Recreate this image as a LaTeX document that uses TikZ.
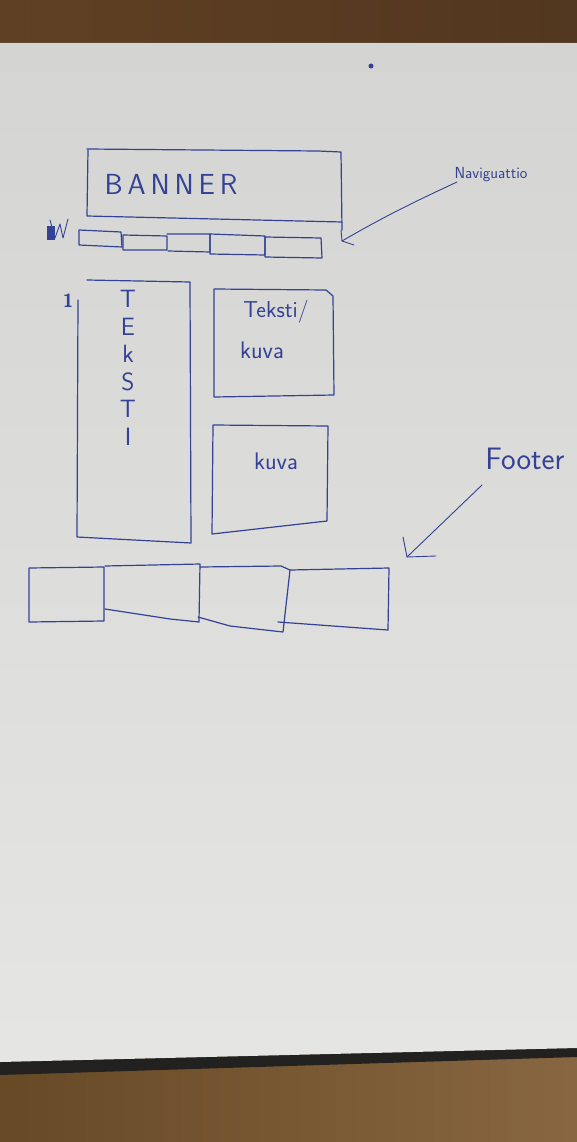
\documentclass[tikz,border=0pt]{standalone}
\usepackage{tikz}
\definecolor{inkblue}{RGB}{52,66,150}
\definecolor{paper}{RGB}{212,212,210}
\definecolor{woodtop}{RGB}{96,64,36}
\definecolor{woodlow}{RGB}{122,86,44}
\definecolor{paperedge}{RGB}{34,33,32}

\begin{document}
\begin{tikzpicture}[x=1pt, y=-1pt,
    ink/.style={draw=inkblue, line width=1.2pt, line join=round, line cap=round},
    hand/.style={text=inkblue, font=\sffamily, inner sep=0pt}]
            % photo background: table and sheet
            \useasboundingbox (0,0) rectangle (577,1142);
            \fill[left color=woodtop, right color=woodtop!85!black] (0,0) rectangle (577,44);
            \fill[left color=woodlow!85!black, right color=woodlow!90!white] (0,1040) rectangle (577,1142);
            \fill[paperedge] (0,1062) -- (577,1048) -- (577,1057) -- (0,1075) -- cycle;
            \fill[top color=paper, bottom color=paper!60!white] (0,43) -- (577,43) -- (577,1048) -- (0,1062) -- cycle;
            \fill[inkblue] (371,66) circle (2.5pt);
            % banner
            \draw[ink](87,149)--(318,151)--(341,152)--(342,230);
            \draw[ink](88,150)--(87,216)--(342,222);
            \node[hand, font=\sffamily\fontsize{29}{29}\selectfont] (banner) at (171,184) {B\,A\,N\,N\,E\,R};
            % navigation
            \fill[inkblue] (47,226) rectangle (55,240);
            \draw[ink, line width=.9pt](50,220)--(55,238)--(60,224)--(63,238)--(68,219);
            \draw[ink](79,230)--(121,232)--(122,247)--(79,245)--cycle;
            \draw[ink](123,235)--(167,236)--(167,250)--(123,250)--cycle;
            \draw[ink](167,234)--(210,234)--(210,252)--(168,251);
            \draw[ink](210,234)--(265,236)--(265,255)--(210,254)--cycle;
            \draw[ink](265,237)--(321,238)--(322,258)--(265,257)--cycle;
            \node[hand, font=\sffamily\fontsize{16}{16}\selectfont] (navlabel) at (491,175) {Naviguattio};
            \coordinate (navtip) at (342,241);
            \draw[ink, line width=.9pt](457,182) to[out=205, in=30] (navtip);
            \draw[ink, line width=.9pt](341,230)--(navtip)--(354,245);
            % content
            \node[hand, font=\sffamily\bfseries\fontsize{19}{19}\selectfont] (one) at (68,301) {1};
            \draw[ink](87,280)--(190,282)--(191,543)--(77,537)--(78,300);
            \node[hand, font=\sffamily\fontsize{25}{27.5}\selectfont, align=center] (teksti) at (128,368) {T\\E\\k\\S\\T\\I};
            \draw[ink](214,289)--(326,290)--(333,296)--(334,395)--(214,397)--cycle;
            \node[hand, font=\sffamily\fontsize{23}{23}\selectfont] (tekstit) at (276,312) {Teksti/};
            \node[hand, font=\sffamily\fontsize{24}{24}\selectfont] (kuva1) at (262,350) {kuva};
            \draw[ink](213,425)--(328,426)--(327,521)--(212,534)--cycle;
            \node[hand, font=\sffamily\fontsize{24}{24}\selectfont] (kuva2) at (276,461) {kuva};
            % footer
            \node[hand, font=\sffamily\fontsize{31}{31}\selectfont] (footlabel) at (525,459) {Footer};
            \coordinate (foottip) at (407,557);
            \draw[ink, line width=.9pt](482,485)--(foottip);
            \draw[ink, line width=.9pt](403,537)--(foottip)--(436,556);
            \draw[ink](29,568)--(104,567)--(104,621)--(29,622)--cycle;
            \draw[ink](105,566)--(200,564)--(199,622)--(170,619)--(105,609);
            \draw[ink](200,567)--(281,566)--(290,570)--(283,632)--(230,626)--(198,617);
            \draw[ink](290,570)--(389,568)--(388,630)--(278,622);
        \end{tikzpicture}
\end{document}
